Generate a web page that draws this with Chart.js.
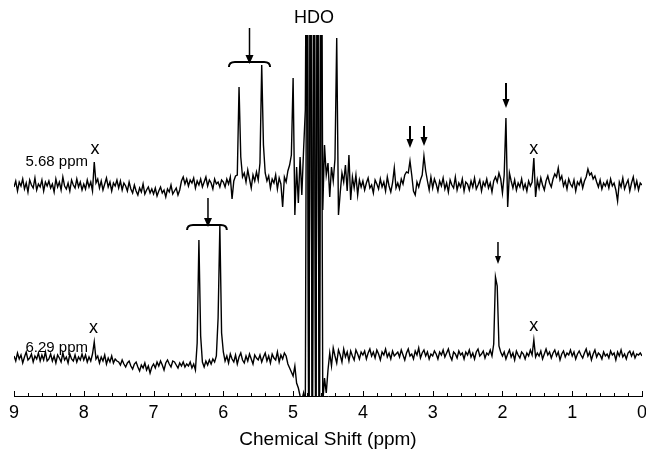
<!DOCTYPE html>
<html>
<head>
<meta charset="utf-8">
<script src="https://cdn.jsdelivr.net/npm/chart.js@4.4.1/dist/chart.umd.min.js"></script>
<style>
  html, body { margin: 0; padding: 0; background: #fff; }
</style>
</head>
<body>
<canvas id="nmrChart" width="646" height="453"></canvas>
<script>
// spectra are sampled every 0.025 ppm, from 9 ppm down to 0 ppm
const ppmStart = 9;
const ppmStep = 0.025;

// intensities (a.u.), relative to each trace's own baseline
// top trace: irradiation at 5.68 ppm
const topSpectrum = [
  -2, 4, -6, 3, -1, 6, -4, 2, -7, 5, 0, -3, 7, -5, 1, -2, 5, -6, 3, -1,
  4, -3, 1, -7, 6, -2, 3, -5, 8, -1, -4, 2, -6, 5, 0, -3, 6, -2, 3, -5,
  1, -4, 5, -2, 3, -6, 23, 2, 6, -3, 4, -5, 1, 7, -2, 3, -6, 2, -1, 5,
  -3, 4, -5, 2, -1, -6, 3, -4, -8, 0, -6, -10, -3, -7, 1, -9, -5, -2, -8, -4,
  -9, -3, -11, -6, -2, -8, -5, -12, -4, -7, 0, -9, -6, -3, -10, -5, 4, 8, 1, 6,
  -1, 5, 2, 7, -3, 4, 0, 6, -2, 3, 8, -1, 5, 2, -4, 6, 1, 3, -2, 5,
  3, -2, 6, 1, 8, -14, 4, 9, 10, 98, 28, 8, 12, 3, 15, 6, -3, 10, 4, 13,
  5, 22, 120, 40, 12, 4, 9, -3, 6, 2, 10, -4, 7, 1, -22, 8, 3, 14, 20, 30,
  107, -30, 18, -18, 28, -10, 35, 75, 400, -300, 400, -300, 400, -300, 400, -300, 400, -25, 40, 10,
  22, -12, 18, 4, 26, 147, -30, -8, 12, 3, 20, -6, 30, -15, 8, -3, 10, -10, 5, -2,
  4, -5, 2, 7, -3, 0, -8, 5, 1, -4, 6, -2, 3, -6, 8, -1, -7, 2, 17, -3,
  2, -4, 6, 1, 10, 13, 12, 24, 10, -6, -10, 3, -2, 5, 10, 29, 14, 4, -5, 8,
  -3, 6, 1, -6, 4, -1, 7, -4, 2, -7, 5, 0, -3, 8, -5, 2, -2, 6, -6, 3,
  1, -5, 4, -2, 7, -4, 0, 5, -6, 3, -1, 6, -3, 2, -7, 4, 8, 3, 12, 6,
  -8, 10, 67, -22, 12, 4, -3, 5, -5, 2, -2, 6, -4, 1, -6, 4, -1, 3, 27, -12,
  5, -3, 7, 0, -5, 4, 9, 2, -2, 6, 11, 8, 17, 5, 9, -1, 4, -4, 6, 1,
  -2, 5, -6, 3, 0, 6, -3, 4, 8, 16, 10, 12, 6, 9, 3, -2, 5, -4, 2, -1,
  4, -3, 6, -1, 2, -5, -16, 3, -2, 7, -4, 1, 5, -6, 2, 8, -3, 4, -5, 2,
  0
];

// bottom trace: irradiation at 6.29 ppm
const bottomSpectrum = [
  2, -3, 5, -1, 3, -5, 1, 6, -2, 0, 4, -4, 2, -1, 5, -3, 3, -2, 6, -3,
  -1, 4, -3, 2, -5, 3, 0, -4, 5, -2, 1, -5, 4, -1, -3, 3, -4, 1, -2, 4,
  -2, 3, -4, 1, -3, 4, 16, -1, 2, -5, 1, -3, 3, -6, 0, -4, 2, -5, -1, -3,
  -4, -7, -2, -6, -9, -5, -3, -8, -11, -6, -4, -9, -13, -7, -10, -5, -12, -8, -15, -9,
  -6, -10, -4, -8, -3, -7, -12, -5, -2, -6, -9, -3, -4, -7, -10, -5, -8, -4, -9, -6,
  -8, -4, -10, -6, -12, 15, 118, 22, -4, -9, -3, -7, -2, -6, -1, -4, 2, 40, 132, 25,
  6, -3, 2, -5, 4, -1, -4, 3, -6, 1, 5, -2, -5, 2, -3, 4, -1, -6, 3, 0,
  -2, 3, -4, 1, 5, -3, 2, -5, 4, 0, -2, 6, -4, 3, -1, 5, 2, -6, -10, -14,
  -18, -8, -25, -30, -38, -42, -35, -45, 500, -100, 500, -100, 500, -100, 500, -100, 500, -45, -20, -35,
  -12, 5, -8, 10, 2, -5, 8, 3, -4, 9, 1, 6, -3, 7, 2, -2, 8, 4, -1, 6,
  3, 7, -1, 5, 9, 2, 6, 0, 8, 4, -2, 6, 3, 9, 1, 5, -1, 7, 2, 4,
  6, 1, 8, 3, -2, 5, 9, 2, 4, -1, 7, 3, 10, 0, 5, 8, 2, 6, -1, 4,
  2, 7, 4, -1, 6, 3, 8, 1, 5, 9, 2, -2, 6, 4, 0, 7, 3, 5, -1, 6,
  3, 8, 1, 5, -1, 6, 9, 2, 4, 7, 0, 5, 3, 8, 2, 14, 81, 72, 12, 6,
  2, 6, -1, 4, 8, 1, 5, -2, 7, 3, 0, 6, 4, -1, 5, 2, 8, 3, 18, 1,
  5, 2, 7, -1, 4, 9, 3, 6, 0, 5, 8, 2, 6, -2, 4, 7, 1, 5, 3, 8,
  2, 6, -1, 4, 7, 3, 0, 5, 9, 2, 6, -2, 4, 8, 1, 5, 3, -1, 6, 2,
  4, 0, 7, 3, 5, -2, 6, 2, 8, 1, 4, -1, 5, 7, 2, 6, 0, 4, 3, 5,
  2
];

const majorTicks = [9, 8, 7, 6, 5, 4, 3, 2, 1, 0];
const traceLabels = ['5.68 ppm', '6.29 ppm'];

// vertical stacking of the two traces
const topOffset = 211;
const bottomOffset = 38;

function toPoints(values, offset) {
  return values.map((v, i) => ({ x: +(ppmStart - i * ppmStep).toFixed(3), y: v + offset }));
}

const FONT = '"Liberation Sans", Arial, sans-serif';

function arrow(ctx, x, yFrom, yTip, headW, headL, lw) {
  ctx.lineWidth = lw;
  ctx.beginPath();
  ctx.moveTo(x, yFrom);
  ctx.lineTo(x, yTip - headL + 1);
  ctx.stroke();
  ctx.beginPath();
  ctx.moveTo(x - headW / 2, yTip - headL);
  ctx.lineTo(x + headW / 2, yTip - headL);
  ctx.lineTo(x, yTip);
  ctx.closePath();
  ctx.fill();
}

function brace(ctx, xl, xr, yb) {
  ctx.lineWidth = 2;
  ctx.beginPath();
  ctx.moveTo(xl, yb + 5);
  ctx.quadraticCurveTo(xl, yb, xl + 6, yb);
  ctx.lineTo(xr - 6, yb);
  ctx.quadraticCurveTo(xr, yb, xr, yb + 5);
  ctx.stroke();
}

const annotate = {
  id: 'annotate',
  afterDatasetsDraw(chart) {
    const { ctx, chartArea } = chart;
    const xs = chart.scales.x, ys = chart.scales.y;
    const X = v => xs.getPixelForValue(v);
    const Y = v => ys.getPixelForValue(v);
    ctx.save();
    ctx.strokeStyle = '#000';
    ctx.fillStyle = '#000';

    // axis ticks pointing up into the plot
    ctx.lineWidth = 1;
    const base = chartArea.bottom;
    for (let k = 0; k <= 45; k++) {
      const px = Math.round(X(k / 5)) + 0.5;
      const len = k % 5 === 0 ? 5 : 3;
      ctx.beginPath();
      ctx.moveTo(px, base);
      ctx.lineTo(px, base - len);
      ctx.stroke();
    }

    // HDO label
    ctx.font = '18px ' + FONT;
    ctx.textAlign = 'center';
    ctx.textBaseline = 'middle';
    ctx.fillText('HDO', X(4.7), Y(378));

    // trace labels
    ctx.font = '15px ' + FONT;
    ctx.textAlign = 'right';
    ctx.fillText(traceLabels[0], X(7.94), Y(234));
    ctx.fillText(traceLabels[1], X(7.94), Y(48));

    // impurity markers
    ctx.font = '18px ' + FONT;
    ctx.textAlign = 'center';
    ctx.textBaseline = 'alphabetic';
    ctx.fillText('x', X(7.84), Y(247) + 5);
    ctx.fillText('x', X(1.55), Y(247) + 5);
    ctx.fillText('x', X(7.86), Y(68) + 5);
    ctx.fillText('x', X(1.55), Y(70) + 5);

    // braces with arrows over the irradiated multiplets
    brace(ctx, X(5.92), X(5.33), Y(334));
    arrow(ctx, X(5.625), Y(368), Y(332), 8, 9, 1.5);
    brace(ctx, X(6.52), X(5.95), Y(171));
    arrow(ctx, X(6.22), Y(198), Y(169), 8, 9, 1.5);

    // single arrows
    arrow(ctx, X(3.325), Y(270), Y(248), 7, 9, 2);
    arrow(ctx, X(3.124), Y(270), Y(250), 7, 9, 2);
    arrow(ctx, X(1.949), Y(313), Y(288), 7, 9, 2);
    arrow(ctx, X(2.064), Y(154), Y(132), 6, 8, 1.5);

    ctx.restore();
  }
};

new Chart(document.getElementById('nmrChart').getContext('2d'), {
  type: 'line',
  data: {
    datasets: [
      {
        label: traceLabels[0],
        data: toPoints(topSpectrum, topOffset),
        borderColor: '#000',
        borderWidth: 1.4,
        pointRadius: 0,
        tension: 0
      },
      {
        label: traceLabels[1],
        data: toPoints(bottomSpectrum, bottomOffset),
        borderColor: '#000',
        borderWidth: 1.4,
        pointRadius: 0,
        tension: 0
      }
    ]
  },
  options: {
    responsive: false,
    animation: false,
    devicePixelRatio: 1,
    layout: { padding: { left: 14, right: 4, top: 35, bottom: 0 } },
    plugins: { legend: { display: false }, tooltip: { enabled: false } },
    scales: {
      x: {
        type: 'linear',
        reverse: true,
        min: 0,
        max: 9,
        afterBuildTicks: (scale) => { scale.ticks = majorTicks.map(v => ({ value: v })); },
        afterFit: (scale) => {
          scale.height = 57;
          scale.paddingLeft = 0;
          scale.paddingRight = 0;
        },
        ticks: {
          color: '#000',
          font: { family: FONT, size: 18 },
          padding: 6,
          maxRotation: 0,
          autoSkip: false
        },
        grid: { drawOnChartArea: false, drawTicks: false },
        border: { display: true, color: '#000', width: 1 },
        title: {
          display: true,
          text: 'Chemical Shift (ppm)',
          color: '#000',
          font: { family: FONT, size: 19 },
          padding: { top: 0, bottom: 2 }
        }
      },
      y: {
        display: false,
        min: 0,
        max: 361
      }
    }
  },
  plugins: [annotate]
});
</script>
</body>
</html>
